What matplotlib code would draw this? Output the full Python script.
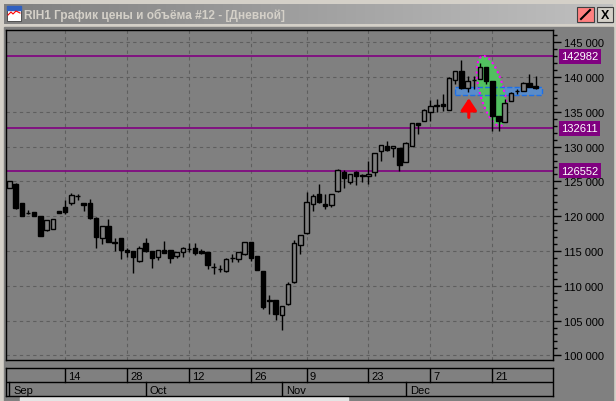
import numpy as np
import pandas as pd
import matplotlib
matplotlib.use("Agg")
import matplotlib.pyplot as plt
from matplotlib.patches import Rectangle, Polygon
from matplotlib.transforms import blended_transform_factory
from matplotlib.colors import LinearSegmentedColormap

plt.rcParams['font.family'] = ['Liberation Sans', 'DejaVu Sans']

# daily bars, RIH1, Sep 1 - Dec 30 2020 (Nov 4 holiday)
days = pd.bdate_range('2020-09-01', '2020-12-30')
days = days[days != pd.Timestamp('2020-11-04')]

opens = [124120, 124690, 121830, 120420, 120540, 119970, 117960, 118150, 120730, 121260,
         121830, 122850, 121930, 121930, 119680, 116910, 118630, 116200, 116910, 115140,
         114990, 113560, 116100, 114990, 114190, 115140, 115140, 114300, 114910, 115250,
         115380, 114990, 114810, 112680, 112440, 112190, 113930, 113850, 114520, 116240,
         114330, 112190, 107740, 107930, 105780, 107360, 110510, 115810, 117530, 121690,
         123120, 121690, 121540, 123550, 126410, 124980, 126410, 125820, 125840, 126410,
         129420, 130140, 129850, 129850, 127850, 130140, 133440, 133720, 135010, 135850,
         136160, 135300, 139600, 140890, 138450, 139580, 139740, 141460, 139450, 134440,
         133580, 136590, 138000, 138020, 139170, 138740]
highs = [125120, 124800, 121830, 120870, 120540, 119970, 119490, 119640, 120730, 122300,
         123360, 123260, 121930, 122450, 119920, 118630, 119540, 116910, 116910, 115380,
         114990, 115770, 116910, 114990, 115140, 116480, 115140, 114910, 115620, 116100,
         116100, 115280, 114810, 113230, 112990, 114050, 114520, 114910, 116240, 116240,
         114330, 112190, 108650, 107930, 107070, 110510, 116530, 117240, 123410, 123120,
         124690, 123260, 123260, 126770, 126700, 126130, 126480, 126130, 127990, 129140,
         130280, 130860, 130140, 129850, 130640, 133440, 133440, 135370, 136730, 136880,
         137590, 139950, 140890, 142460, 140170, 140170, 142030, 141460, 139450, 134440,
         136880, 137810, 138310, 139240, 140460, 140170]
lows = [123980, 121010, 119970, 120250, 119970, 117100, 117860, 118100, 120390, 120250,
        121590, 122260, 120780, 119580, 115480, 116000, 116240, 114990, 113850, 114190,
        111800, 113470, 114910, 112510, 113700, 114710, 113230, 113950, 114190, 114910,
        114420, 114560, 112410, 111700, 112040, 111940, 113370, 113370, 114450, 113560,
        112230, 106680, 105920, 105060, 103630, 107280, 110440, 114520, 117460, 120680,
        121900, 120970, 121260, 123480, 123980, 124690, 124550, 124980, 124690, 125840,
        127990, 129420, 128560, 126560, 127780, 130070, 131860, 133650, 133720, 135010,
        135160, 135230, 139020, 138310, 137880, 138310, 139670, 139020, 132290, 132290,
        133510, 136520, 137590, 137950, 138520, 138310]
closes = [125080, 121110, 120010, 120390, 120010, 117140, 119390, 119580, 120400, 120640,
          122980, 122880, 121590, 119680, 116960, 118630, 116340, 116260, 115140, 114910,
          114190, 115480, 114990, 114050, 115140, 114760, 114050, 114910, 115380, 115290,
          114760, 114710, 112990, 112640, 112400, 113800, 113960, 114810, 116240, 114050,
          112270, 106930, 107970, 105920, 107070, 110220, 116100, 117240, 121970, 122830,
          121970, 121470, 123260, 126700, 125550, 126060, 125840, 125860, 126130, 129140,
          130280, 129570, 130140, 127420, 130570, 133440, 133150, 135300, 135870, 135900,
          135870, 139880, 140890, 138450, 139450, 139620, 141460, 139450, 134440, 133720,
          136300, 137740, 138040, 139170, 138600, 138450]

levels = [142982, 132611, 126552]
tick_days = ['2020-09-14', '2020-09-28', '2020-10-12', '2020-10-26',
             '2020-11-09', '2020-11-23', '2020-12-07', '2020-12-21']
tick_labels = ['14', '28', '12', '26', '9', '23', '7', '21']
month_labels = ['Sep', 'Oct', 'Nov', 'Dec']
zone_lo, zone_hi = 137480, 138580
zone_from, zone_to = 71.95, 86.05

W, H = 616, 402
BG = '#808080'
fig = plt.figure(figsize=(W / 100, H / 100), dpi=100)
fig.patch.set_facecolor('#d4d0c8')

# window frame / title bar (pixel space)
fr = fig.add_axes([0, 0, 1, 1])
grad = LinearSegmentedColormap.from_list('t', ['#808080', '#c0c0c0'])
fr.imshow(np.linspace(0, 1, 256)[None, :], extent=(4, 613, 25, 5), cmap=grad, aspect='auto')
fr.add_patch(Rectangle((4, 28), 609, 374, color=BG))
fr.add_patch(Rectangle((20, 398), 328, 4, color='#e4e4e4'))
fr.add_patch(Rectangle((7, 7), 14, 15, facecolor='white', edgecolor='#404040', lw=0.6))
fr.add_patch(Rectangle((7, 7), 14, 4, color='#3060c0'))
fr.plot([8, 11, 13, 16, 20], [16, 13, 15, 12, 14], color='red', lw=0.8)
fr.add_patch(Rectangle((577, 8), 17, 15, facecolor='#ff8080', edgecolor='#404040', lw=0.8))
fr.plot([581, 590], [20, 11], color='black', lw=1.5)
fr.add_patch(Rectangle((597, 8), 16, 15, facecolor='#d4d0c8', edgecolor='#404040', lw=0.8))
fr.text(605, 16, 'X', ha='center', va='center', fontsize=9, fontweight='bold')
fr.text(24, 15.5, 'RIH1 График цены и объёма #12 - [Дневной]', color='#d4d0c8',
        fontsize=8.6, fontweight='bold', va='center', ha='left')
fr.set_xlim(0, W)
fr.set_ylim(H, 0)
fr.axis('off')

x = np.arange(len(days))
tick_pos = [days.get_loc(pd.Timestamp(d)) for d in tick_days]
month_pos = [int(np.argmax(days.month == m)) for m in (9, 10, 11, 12)]
xlim = (-0.55, 87.8)
ylim = (99330, 146760)
ax_w, ax_h = 547, 330

ax = fig.add_axes([6 / W, 1 - 361 / H, ax_w / W, ax_h / H])
ax.set_facecolor(BG)
ax.set_xlim(*xlim)
ax.set_ylim(*ylim)
for yv in range(100000, 146000, 5000):
    ax.axhline(yv, color='#5e5e5e', lw=0.8, dashes=(3, 3), zorder=0)
for p in tick_pos:
    ax.axvline(p, color='#5e5e5e', lw=0.8, dashes=(3, 3), zorder=0)
for lv in levels:
    ax.axhline(lv, color='#800080', lw=1.2, zorder=1)

ax.add_patch(Rectangle((zone_from, zone_lo), zone_to - zone_from, zone_hi - zone_lo,
                       facecolor='#5b8cc8', edgecolor='none', zorder=1.5))

# highlighted swing: tilted ellipse, shaped in screen pixels then mapped to data
sx = ax_w / (xlim[1] - xlim[0])      # px per bar
sy = ax_h / (ylim[1] - ylim[0])      # px per price unit
t = np.linspace(0, 2 * np.pi, 120)
a, b, ang = 36, 12, np.deg2rad(15)
u, v = b * np.cos(t), a * np.sin(t)
px = u * np.cos(ang) - v * np.sin(ang)
py = u * np.sin(ang) + v * np.cos(ang)
ell = np.column_stack([77.9 + px / sx, 138000 + py / sy])
ax.add_patch(Polygon(ell, closed=True, facecolor='#52c060', edgecolor='none', zorder=2))
ax.add_patch(Polygon(ell, closed=True, facecolor='none', edgecolor='#ff00ff', lw=1.5,
                     linestyle=(0, (1, 1.5)), zorder=2.5))
ax.add_patch(Rectangle((zone_from, zone_lo), zone_to - zone_from, zone_hi - zone_lo,
                       facecolor='none', edgecolor='#1e70e6', lw=1, ls='--', zorder=2.6))

o = np.array(opens); c = np.array(closes)
up = c >= o
ax.vlines(x, lows, highs, color='black', lw=1, zorder=3)
body = np.maximum(np.abs(c - o), 60)
ax.bar(x[up], body[up], bottom=o[up], width=0.72, facecolor=BG,
       edgecolor='black', lw=1, zorder=4)
ax.bar(x[~up], body[~up], bottom=c[~up], width=0.72, facecolor='black',
       edgecolor='black', lw=1, zorder=4)

ax.annotate('', xy=(74.2, 136950), xytext=(74.2, 134200),
            arrowprops=dict(arrowstyle='-|>,head_length=0.6,head_width=0.4',
                            color='red', lw=2.2, mutation_scale=12,
                            shrinkA=0, shrinkB=0),
            zorder=6)

ax.yaxis.tick_right()
ax.set_yticks(range(100000, 146000, 5000))
ax.set_yticklabels([f'{v // 1000} 000' for v in range(100000, 146000, 5000)])
ax.set_yticks(range(100000, 147000, 1000), minor=True)
ax.tick_params(axis='y', which='major', length=6, width=1, pad=2, labelsize=8, colors='black')
ax.tick_params(axis='y', which='minor', length=3, width=1)
ax.set_xticks([])
for s in ax.spines.values():
    s.set_color('black')
    s.set_linewidth(1)

tr = blended_transform_factory(ax.transAxes, ax.transData)
for lv in levels:
    ax.text(1 + 8 / ax_w, lv, str(lv), transform=tr, color='white', fontsize=8,
            va='center', ha='left', clip_on=False,
            bbox=dict(boxstyle='square,pad=0.22', facecolor='#800080', edgecolor='none'))

# two-row date scale
axd = fig.add_axes([6 / W, 1 - 397 / H, ax_w / W, 28 / H])
axd.set_facecolor(BG)
axd.set_xlim(*xlim)
axd.set_ylim(0, 2)
axd.axhline(1, color='black', lw=1)
for p, lab in zip(tick_pos, tick_labels):
    axd.plot([p, p], [1, 2], color='black', lw=1)
    axd.text(p + 0.5, 1.45, lab, fontsize=8, va='center', ha='left')
for p, lab in zip(month_pos, month_labels):
    axd.plot([p, p], [0, 1], color='black', lw=1)
    axd.text(p + 0.7, 0.45, lab, fontsize=8, va='center', ha='left')
axd.set_xticks([])
axd.set_yticks([])
for s in axd.spines.values():
    s.set_color('black')
    s.set_linewidth(1)

fig.savefig('out.png', dpi=100, facecolor=fig.get_facecolor())
